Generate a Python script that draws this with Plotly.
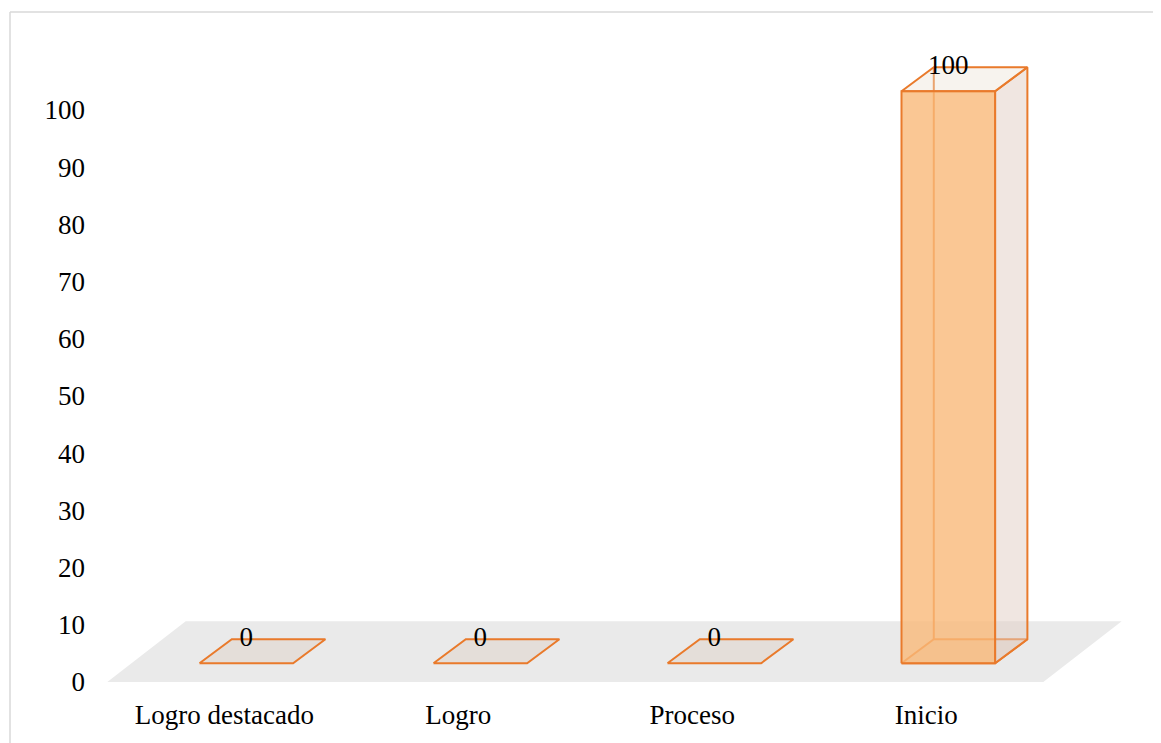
import plotly.graph_objects as go

# ---- data ----
categories = ["Logro destacado", "Logro", "Proceso", "Inicio"]
values = [0, 0, 0, 100]
y_ticks = [0, 10, 20, 30, 40, 50, 60, 70, 80, 90, 100]

# ---- styling / projection constants ----
FONT = "Liberation Serif"
FS = 27
ORANGE = "#E97A2B"
BAR_W = 0.40
FLOOR_DX, FLOOR_DY = 0.335, 10.62   # floor depth (x units, value units)
FRONT_DX, FRONT_DY = 0.094, 3.27    # bar front face offset in depth
BACK_DX, BACK_DY = 0.232, 7.47      # bar back face offset in depth

fig = go.Figure()


def poly(xs, ys, fill, line_color, width):
    fig.add_trace(go.Scatter(
        x=xs + [xs[0]], y=ys + [ys[0]], mode="lines",
        fill="toself" if fill else None, fillcolor=fill,
        line=dict(color=line_color, width=width),
        hoverinfo="skip", showlegend=False))


def seg(xs, ys, color, width):
    fig.add_trace(go.Scatter(x=xs, y=ys, mode="lines",
                             line=dict(color=color, width=width),
                             hoverinfo="skip", showlegend=False))


# floor
n = len(categories)
fx0, fx1 = -0.5, n - 0.5
poly([fx0, fx1, fx1 + FLOOR_DX, fx0 + FLOOR_DX], [0, 0, FLOOR_DY, FLOOR_DY],
     "rgb(234,234,234)", "rgba(0,0,0,0)", 0)

for i, v in enumerate(values):
    l, r = i - BAR_W / 2, i + BAR_W / 2
    fl, fr = l + FRONT_DX, r + FRONT_DX
    fb, ft = FRONT_DY, v + FRONT_DY
    bl, br = l + BACK_DX, r + BACK_DX
    bb, bt = BACK_DY, v + BACK_DY
    # bottom face
    poly([fl, fr, br, bl], [fb, fb, bb, bb], "rgba(222,212,202,0.55)", ORANGE, 2)
    if v > 0:
        seg([bl, bl], [bb, bt], ORANGE, 2)
        poly([fr, br, br, fr], [fb, bb, bt, ft], "rgba(225,205,195,0.5)", ORANGE, 2)
        poly([fl, fr, br, bl], [ft, ft, bt, bt], "rgba(235,225,212,0.4)", ORANGE, 2)
        poly([fl, fr, fr, fl], [fb, fb, ft, ft], "rgba(249,185,121,0.8)", ORANGE, 2)

# data labels
fig.add_trace(go.Scatter(
    x=[i + FRONT_DX for i in range(n)],
    y=[v + BACK_DY for v in values],
    mode="text", text=[str(v) for v in values], textposition="middle center",
    textfont=dict(family=FONT, size=FS, color="black"),
    hoverinfo="skip", showlegend=False))

# outer border (top and left)
fig.add_shape(type="line", xref="paper", yref="paper",
              x0=-0.0767, x1=1.02, y0=1.0118, y1=1.0118,
              line=dict(color="rgb(217,217,217)", width=1.5))
fig.add_shape(type="line", xref="paper", yref="paper",
              x0=-0.0767, x1=-0.0767, y0=1.0118, y1=-0.08,
              line=dict(color="rgb(217,217,217)", width=1.5))

fig.update_layout(
    width=1153, height=735,
    margin=dict(l=84, r=0, t=12, b=47),
    paper_bgcolor="white", plot_bgcolor="white",
    font=dict(family=FONT, size=FS, color="black"),
    xaxis=dict(range=[-0.5654, 4.003], tickvals=list(range(n)), ticktext=categories,
               showgrid=False, zeroline=False, showline=False, ticks="",
               tickfont=dict(family=FONT, size=FS, color="black"), fixedrange=True),
    yaxis=dict(range=[-2.448, 115.734], tickvals=y_ticks,
               ticktext=[str(t) for t in y_ticks], ticklabelstandoff=6,
               showgrid=False, zeroline=False, showline=False, ticks="",
               tickfont=dict(family=FONT, size=FS, color="black"), fixedrange=True),
)

fig.write_html("out.html")
